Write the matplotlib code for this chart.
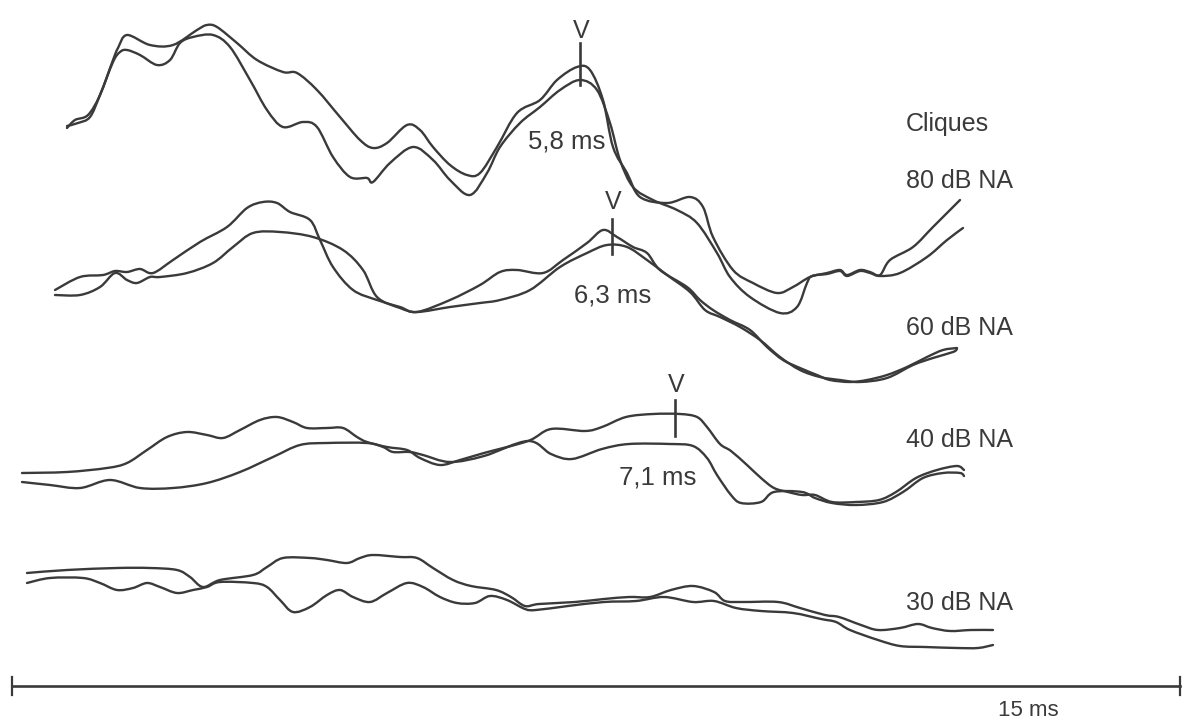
"""
Auditory brainstem responses to clicks at four levels (two runs per level),
redrawn from a scanned figure. Coordinates are in figure pixels, y down.
"""
import matplotlib
matplotlib.use("Agg")
import matplotlib.pyplot as plt
from matplotlib.path import Path
from matplotlib.patches import PathPatch

# --- 80 dB NA --------------------------------------------------------------
x80a = [67, 75, 88, 100, 113, 118, 127, 150, 173, 197, 207, 217, 237, 257, 283, 297,
        317, 340, 360, 373, 387, 407, 420, 433, 450, 467, 480, 497, 517, 540, 557,
        577, 590, 603, 613, 627, 640, 667, 690, 703, 713, 733, 753, 777, 793, 810,
        827, 840, 847, 860, 870, 880, 890, 913, 933, 960]
y80a = [128, 120, 115, 95, 60, 48, 35, 45, 45, 30, 25, 27, 43, 60, 72, 73,
        90, 117, 140, 148, 143, 125, 130, 147, 165, 175, 173, 147, 113, 100, 80,
        67, 70, 100, 147, 173, 197, 203, 197, 207, 237, 270, 283, 293, 287, 277,
        273, 270, 275, 270, 272, 275, 260, 247, 227, 200]
x80b = [67, 78, 90, 100, 113, 120, 127, 140, 157, 170, 180, 193, 213, 230, 250, 267,
        283, 303, 317, 333, 350, 367, 373, 390, 413, 433, 450, 470, 487, 500, 520,
        540, 560, 580, 597, 610, 620, 633, 653, 677, 697, 717, 730, 750, 780, 797,
        807, 812, 827, 840, 847, 860, 870, 880, 900, 927, 947, 963]
y80b = [126, 123, 117, 95, 62, 52, 50, 55, 65, 60, 43, 37, 35, 47, 80, 110,
        127, 122, 127, 157, 177, 178, 182, 163, 147, 160, 180, 195, 173, 147, 123,
        107, 90, 80, 90, 123, 160, 187, 200, 210, 223, 253, 277, 297, 313, 307,
        283, 276, 274, 271, 276, 271, 273, 276, 273, 257, 240, 228]

# --- 60 dB NA --------------------------------------------------------------
x60a = [55, 80, 103, 115, 127, 140, 153, 173, 200, 227, 247, 263, 277, 290, 310, 320,
        333, 353, 377, 400, 417, 450, 480, 500, 517, 543, 563, 587, 603, 617, 633,
        647, 660, 687, 700, 713, 730, 750, 767, 783, 800, 817, 830, 850, 867, 887,
        907, 927, 943, 957]
y60a = [290, 277, 275, 271, 272, 269, 273, 260, 242, 227, 208, 202, 203, 212, 220, 240,
        267, 290, 300, 307, 312, 300, 285, 272, 270, 273, 260, 243, 230, 237, 247,
        253, 270, 287, 300, 310, 320, 330, 347, 360, 368, 375, 380, 382, 380, 375,
        367, 357, 350, 348]
x60b = [55, 80, 100, 115, 127, 137, 150, 160, 187, 213, 233, 253, 280, 313, 343, 363,
        377, 400, 417, 450, 480, 500, 530, 560, 587, 607, 627, 647, 667, 690, 705,
        720, 740, 760, 780, 800, 820, 840, 860, 887, 913, 933, 953, 957]
y60b = [295, 295, 287, 273, 280, 283, 277, 277, 273, 263, 247, 233, 232, 237, 250, 270,
        297, 308, 312, 307, 303, 300, 290, 267, 253, 245, 247, 260, 275, 292, 310,
        317, 327, 340, 357, 370, 377, 380, 382, 378, 365, 358, 352, 349]

# --- 40 dB NA --------------------------------------------------------------
x40a = [22, 67, 107, 127, 147, 167, 187, 207, 223, 240, 260, 277, 293, 307, 327, 343,
        357, 367, 387, 407, 420, 440, 460, 484, 528, 551, 585, 602, 626, 653, 680,
        697, 707, 720, 731, 747, 761, 774, 788, 802, 815, 832, 856, 879, 896, 916,
        937, 957, 964]
y40a = [473, 472, 468, 463, 450, 437, 432, 435, 438, 430, 420, 417, 422, 428, 428, 428,
        437, 442, 447, 450, 458, 465, 460, 453, 441, 429, 431, 427, 417, 414, 414,
        417, 427, 444, 451, 465, 478, 488, 492, 495, 495, 502, 502, 500, 492, 478,
        470, 466, 470]
x40b = [22, 50, 80, 110, 140, 173, 207, 240, 273, 300, 327, 367, 383, 393, 410, 423,
        450, 484, 528, 551, 572, 602, 629, 670, 693, 707, 717, 731, 741, 761, 774,
        802, 815, 832, 856, 883, 903, 923, 943, 960, 964]
y40b = [482, 485, 488, 480, 488, 488, 483, 472, 457, 445, 443, 443, 447, 452, 452, 455,
        462, 456, 441, 454, 459, 449, 444, 444, 446, 458, 475, 495, 503, 502, 492,
        492, 498, 503, 505, 502, 492, 478, 473, 473, 476]

# --- 30 dB NA --------------------------------------------------------------
x30a = [27, 67, 117, 150, 177, 190, 203, 220, 253, 267, 283, 310, 327, 347, 360, 373,
        400, 417, 433, 453, 471, 496, 511, 525, 539, 575, 604, 629, 650, 671, 693,
        714, 725, 743, 778, 800, 825, 839, 861, 878, 900, 918, 932, 950, 971, 993]
y30a = [573, 570, 568, 568, 570, 577, 587, 580, 575, 567, 558, 558, 560, 563, 558, 555,
        557, 558, 568, 580, 586, 590, 597, 606, 604, 602, 599, 597, 597, 590, 586,
        592, 601, 602, 602, 608, 615, 617, 625, 630, 628, 624, 628, 631, 630, 630]
x30b = [27, 50, 83, 100, 117, 133, 147, 160, 177, 193, 207, 220, 253, 267, 280, 293,
        310, 327, 340, 353, 370, 387, 407, 423, 440, 457, 475, 490, 507, 525, 536,
        568, 604, 636, 664, 693, 714, 736, 761, 793, 821, 836, 850, 878, 900, 925,
        957, 978, 993]
y30b = [583, 578, 578, 583, 590, 588, 583, 587, 593, 590, 587, 582, 583, 587, 600, 612,
        607, 595, 590, 597, 602, 593, 583, 587, 597, 603, 603, 596, 600, 609, 610,
        606, 602, 601, 597, 602, 601, 608, 611, 613, 619, 622, 630, 640, 646, 647,
        648, 648, 645]

traces = [(x80a, y80a), (x80b, y80b), (x60a, y60a), (x60b, y60b),
          (x40a, y40a), (x40b, y40b), (x30a, y30a), (x30b, y30b)]

# wave V markers: (x, top, bottom), letter position (baseline), latency label
v_marks = [(580, 43, 85), (612, 219, 254), (675, 400, 436)]
v_letters = [(581, 38), (613, 209), (676, 392)]
latencies = ["5,8 ms", "6,3 ms", "7,1 ms"]
latency_pos = [(567, 148), (613, 302), (658, 485)]

levels = ["Cliques", "80 dB NA", "60 dB NA", "40 dB NA", "30 dB NA"]
level_base = [131, 188, 335, 447, 610]

INK = "#3a3a3a"
FONT = ["Liberation Sans", "DejaVu Sans"]


def smooth_path(xs, ys):
    pts = list(zip(xs, ys))
    verts = [pts[0]]
    codes = [Path.MOVETO]
    n = len(pts)
    for i in range(n - 1):
        p0 = pts[max(i - 1, 0)]
        p1 = pts[i]
        p2 = pts[i + 1]
        p3 = pts[min(i + 2, n - 1)]
        c1 = (p1[0] + (p2[0] - p0[0]) / 6, p1[1] + (p2[1] - p0[1]) / 6)
        c2 = (p2[0] - (p3[0] - p1[0]) / 6, p2[1] - (p3[1] - p1[1]) / 6)
        verts += [c1, c2, p2]
        codes += [Path.CURVE4] * 3
    return Path(verts, codes)


fig = plt.figure(figsize=(11.86, 7.21), dpi=100)
ax = fig.add_axes((0, 0, 1, 1))
ax.set_xlim(0, 1186)
ax.set_ylim(721, 0)
ax.axis("off")

for xs, ys in traces:
    ax.add_patch(PathPatch(smooth_path(xs, ys), fill=False, edgecolor=INK, lw=1.7,
                           joinstyle="round", capstyle="round"))

for (vx, y0, y1), (lx, ly) in zip(v_marks, v_letters):
    ax.plot([vx, vx], [y0, y1], color=INK, lw=1.9)
    ax.text(lx, ly, "V", ha="center", va="baseline", fontsize=18, color=INK, family=FONT)

for lab, (tx, ty) in zip(latencies, latency_pos):
    ax.text(tx, ty, lab, ha="center", va="baseline", fontsize=18.5, color=INK, family=FONT)

for lab, ty in zip(levels, level_base):
    ax.text(906, ty, lab, ha="left", va="baseline", fontsize=18, color=INK, family=FONT)

# 15 ms scale bar
ax.plot([12, 1180], [686, 686], color=INK, lw=1.9)
ax.plot([12, 12], [677, 695], color=INK, lw=1.6)
ax.plot([1180, 1180], [677, 695], color=INK, lw=1.6)
ax.text(1028, 716, "15 ms", ha="center", va="baseline", fontsize=16, color=INK, family=FONT)

fig.savefig("out.png", dpi=100, facecolor="white")
